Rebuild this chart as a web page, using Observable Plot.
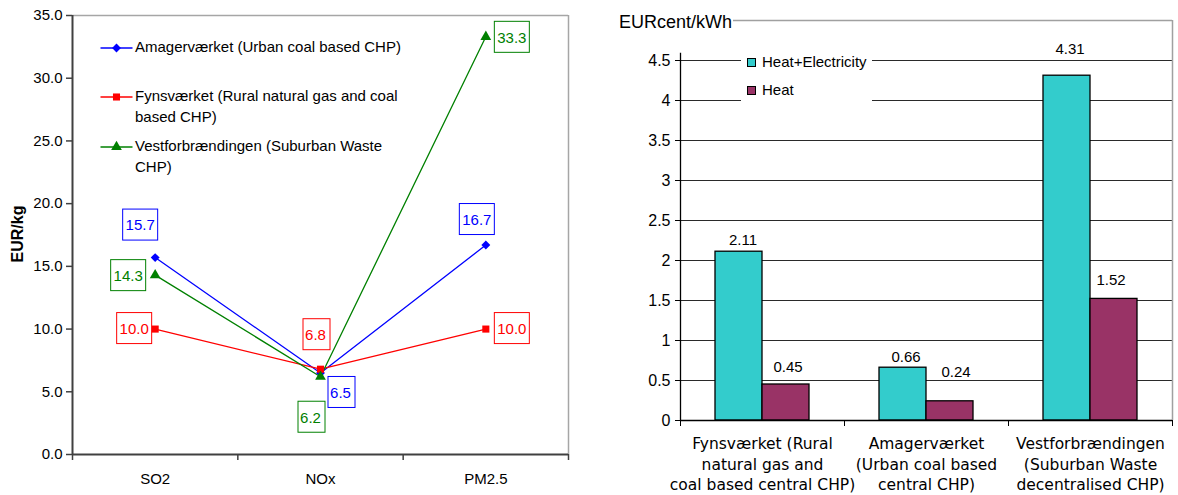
<!DOCTYPE html>
<html><head><meta charset="utf-8">
<script src="https://cdn.jsdelivr.net/npm/d3@7"></script>
<script src="https://cdn.jsdelivr.net/npm/@observablehq/plot@0.6"></script>
<style>
body{margin:0;background:#fff;}
#wrap{position:relative;width:1178px;height:495px;overflow:hidden;font-family:Arial,"Liberation Sans",sans-serif;color:#000;}
.abs{position:absolute;}
.lg{position:absolute;font-size:15px;line-height:20.5px;white-space:nowrap;}
</style></head><body><div id="wrap"></div>
<script>
// ---------- Left chart data ----------
const pollutants = ["SO2", "NOx", "PM2.5"];
const plantSeries = [
  "Amagerværket (Urban coal based CHP)",
  "Fynsværket (Rural natural gas and coal based CHP)",
  "Vestforbrændingen (Suburban Waste CHP)"
];
const amagerValues = [15.7, 6.5, 16.7];
const fynsValues = [10.0, 6.8, 10.0];
const vestValues = [14.3, 6.2, 33.3];
const leftYTicks = [0, 5, 10, 15, 20, 25, 30, 35];
const leftYLabel = "EUR/kg";

// ---------- Right chart data ----------
const plants = [
  "Fynsværket (Rural\nnatural gas and\ncoal based central CHP)",
  "Amagerværket\n(Urban coal based\ncentral CHP)",
  "Vestforbrændingen\n(Suburban Waste\ndecentralised CHP)"
];
const costSeries = ["Heat+Electricity", "Heat"];
const heatElecValues = [2.11, 0.66, 4.31];
const heatValues = [0.45, 0.24, 1.52];
const rightYTicks = [0, 0.5, 1, 1.5, 2, 2.5, 3, 3.5, 4, 4.5];
const rightYLabel = "EURcent/kWh";

// ---------- layout / style ----------
const seriesColors = ["#0000ff", "#ff0000", "#008000"];
const seriesSymbols = ["diamond2", "square", "triangle"];
const barColors = ["#33cccc", "#993366"];
// pixel offsets of boxed labels [dx, dy], per series, per pollutant
const leftLabelOffsets = [
  [[-15, -32], [20, 20], [-9, -25]],
  [[-21, 0], [-5, -34], [26, 0]],
  [[-27, 1], [-10, 41], [26, 1]]
];
// pixel offsets of bar labels [dx, dy], per series, per plant
const rightLabelOffsets = [
  [[4, -12], [3, -11], [3, -27]],
  [[2, -17], [6, -29], [-3, -19]]
];
const barW = 47 / 164; // bar width as fraction of a group band

const wrap = document.getElementById("wrap");
const FONT = "Arial, 'Liberation Sans', sans-serif";

// ---------- Left chart ----------
const leftData = [];
[amagerValues, fynsValues, vestValues].forEach((vals, s) =>
  vals.forEach((v, i) => leftData.push({series: plantSeries[s], s, i, value: v})));

const left = Plot.plot({
  width: 580, height: 495,
  marginLeft: 72, marginRight: 12, marginTop: 15, marginBottom: 41,
  style: {fontFamily: FONT, fontSize: "15px", color: "#000", background: "transparent", overflow: "visible"},
  x: {domain: [0, 3], axis: null},
  y: {domain: [0, 35], axis: null},
  color: {domain: plantSeries, range: seriesColors},
  symbol: {domain: plantSeries, range: seriesSymbols},
  marks: [
    Plot.ruleY([35], {stroke: "#a6a6a6", strokeWidth: 1.5}),
    Plot.ruleX([3], {stroke: "#a6a6a6", strokeWidth: 1.5}),
    Plot.axisY({ticks: leftYTicks, tickFormat: d => d.toFixed(1), tickSize: 6, tickPadding: 4, stroke: "#404040", strokeWidth: 1.5, label: null, fontSize: 15}),
    Plot.axisX({ticks: [0, 1, 2, 3], tickFormat: () => "", tickSize: 6, stroke: "#404040", strokeWidth: 1.5, label: null}),
    Plot.axisX({ticks: [0.5, 1.5, 2.5], tickFormat: d => pollutants[Math.floor(d)], tickSize: 0, tickPadding: 19, label: null, fontSize: 15}),
    Plot.ruleX([0], {stroke: "#404040", strokeWidth: 2}),
    Plot.ruleY([0], {stroke: "#404040", strokeWidth: 2}),
    Plot.line(leftData, {x: d => d.i + 0.5, y: "value", z: "series", stroke: "series", strokeWidth: 1.3}),
    Plot.dot(leftData, {x: d => d.i + 0.5, y: "value", symbol: "series", fill: "series", r: 4}),
    ...leftData.map(d => Plot.text([d], {
      x: e => e.i + 0.5, y: "value", text: e => e.value.toFixed(1), fill: "series",
      dx: leftLabelOffsets[d.s][d.i][0], dy: leftLabelOffsets[d.s][d.i][1],
      fontSize: 15
    }))
  ]
});
const leftDiv = document.createElement("div");
leftDiv.className = "abs"; leftDiv.style.left = "0px"; leftDiv.style.top = "0px";
leftDiv.appendChild(left);
wrap.appendChild(leftDiv);

// y title
const yt = document.createElement("div");
yt.className = "abs";
yt.textContent = leftYLabel;
Object.assign(yt.style, {left: "18px", top: "234px", fontWeight: "bold", fontSize: "16px", transform: "translate(-50%,-50%) rotate(-90deg)", whiteSpace: "nowrap", lineHeight: "18px"});
wrap.appendChild(yt);

// left legend
const legendLines = [
  ["Amagerværket (Urban coal based CHP)"],
  ["Fynsværket (Rural natural gas and coal", "based CHP)"],
  ["Vestforbrændingen (Suburban Waste", "CHP)"]
];
const legendCenters = [47.7, 96.7, 146.7];
plantSeries.forEach((name, s) => {
  const c = legendCenters[s];
  const sw = d3.create("svg").attr("width", 34).attr("height", 20)
    .style("position", "absolute").style("left", "100px").style("top", (c - 10) + "px");
  sw.append("line").attr("x1", 0.5).attr("x2", 32.5).attr("y1", 10).attr("y2", 10)
    .attr("stroke", seriesColors[s]).attr("stroke-width", 1.3);
  const sym = {diamond2: d3.symbolDiamond2, square: d3.symbolSquare, triangle: d3.symbolTriangle}[seriesSymbols[s]];
  sw.append("path").attr("d", d3.symbol(sym, 50)()).attr("transform", "translate(16.5,10)").attr("fill", seriesColors[s]);
  wrap.appendChild(sw.node());
  const t = document.createElement("div");
  t.className = "lg";
  t.style.left = "135px"; t.style.top = (c - 10.25) + "px";
  t.innerHTML = legendLines[s].join("<br>");
  wrap.appendChild(t);
});

// ---------- Right chart ----------
const rightData = [];
plants.forEach((p, i) => {
  rightData.push({plant: p, i, j: 0, series: costSeries[0], value: heatElecValues[i]});
  rightData.push({plant: p, i, j: 1, series: costSeries[1], value: heatValues[i]});
});
const x1Of = d => d.i + 0.5 + (d.j - 1) * barW;
const right = Plot.plot({
  width: 588, height: 495,
  marginLeft: 90, marginRight: 6, marginTop: 20, marginBottom: 75,
  style: {fontFamily: FONT, fontSize: "16px", color: "#000", background: "transparent", overflow: "visible"},
  x: {domain: [0, 3], axis: null},
  y: {domain: [0, 5], axis: null},
  color: {domain: costSeries, range: barColors},
  marks: [
    Plot.ruleY(rightYTicks.filter(d => d > 0), {stroke: "#2a2a2a", strokeWidth: 1}),
    Plot.ruleY([5], {stroke: "#a0a0a0", strokeWidth: 1.5}),
    Plot.ruleX([3], {stroke: "#a0a0a0", strokeWidth: 1.5}),
    Plot.axisY({ticks: rightYTicks, tickFormat: d => String(d), tickSize: 5, tickPadding: 5, stroke: "#000", label: null, fontSize: 16}),
    Plot.axisX({ticks: [0, 1, 2, 3], tickFormat: () => "", tickSize: 6, stroke: "#000", label: null}),
    Plot.axisX({ticks: [0.5, 1.5, 2.5], tickFormat: d => plants[Math.floor(d)], tickSize: 0, tickPadding: 14, label: null,
      fontFamily: "'DejaVu Sans', Verdana, sans-serif", fontSize: 15.5, lineHeight: 1.33}),
    Plot.rect(rightData, {x1: x1Of, x2: d => x1Of(d) + barW, y1: 0, y2: "value", fill: "series", stroke: "#000", strokeWidth: 1.3}),
    Plot.ruleX([0], {y1: 0, y2: 4.59, stroke: "#000", strokeWidth: 1.3}),
    Plot.ruleY([0], {stroke: "#000", strokeWidth: 1.3}),
    ...rightData.map(d => Plot.text([d], {
      x: e => x1Of(e) + barW / 2, y: "value", text: e => e.value.toFixed(2),
      dx: rightLabelOffsets[d.j][d.i][0], dy: rightLabelOffsets[d.j][d.i][1], fontSize: 15, fill: "#000"
    }))
  ]
});
const rightDiv = document.createElement("div");
rightDiv.className = "abs"; rightDiv.style.left = "590px"; rightDiv.style.top = "0px";
rightDiv.appendChild(right);
wrap.appendChild(rightDiv);

// right title
const rt = document.createElement("div");
rt.className = "abs";
rt.textContent = rightYLabel;
Object.assign(rt.style, {left: "619px", top: "12px", fontSize: "18px", lineHeight: "20px", background: "#fff", whiteSpace: "nowrap", paddingRight: "1px"});
wrap.appendChild(rt);

// right legend
const rl = document.createElement("div");
rl.className = "abs";
Object.assign(rl.style, {left: "741px", top: "50px", width: "131px", height: "58px", background: "#fff"});
costSeries.forEach((name, j) => {
  const sw = document.createElement("div");
  Object.assign(sw.style, {position: "absolute", left: "6px", top: (j * 28 + 8) + "px", width: "7px", height: "7px", border: "1px solid #000", background: barColors[j]});
  rl.appendChild(sw);
  const t = document.createElement("div");
  Object.assign(t.style, {position: "absolute", left: "21px", top: (j * 28 + 3) + "px", fontSize: "15px", lineHeight: "18px", whiteSpace: "nowrap"});
  t.textContent = name;
  rl.appendChild(t);
});
wrap.appendChild(rl);

// boxes around left data labels (text marks of the left plot)
left.querySelectorAll('g[aria-label="text"] text').forEach(t => {
  const b = t.getBBox();
  const padX = 3, padY = 8;
  const r = document.createElementNS("http://www.w3.org/2000/svg", "rect");
  r.setAttribute("x", Math.round(b.x - padX) + 0.5);
  r.setAttribute("y", Math.round(b.y - padY) + 0.5);
  r.setAttribute("width", Math.round(b.width + 2 * padX));
  r.setAttribute("height", Math.round(b.height + 2 * padY - 2));
  const tr = t.getAttribute("transform");
  if (tr) r.setAttribute("transform", tr);
  r.setAttribute("fill", "none");
  r.setAttribute("stroke", t.getAttribute("fill") || t.parentNode.getAttribute("fill"));
  r.setAttribute("stroke-width", 1);
  t.parentNode.insertBefore(r, t);
});
</script></body></html>
